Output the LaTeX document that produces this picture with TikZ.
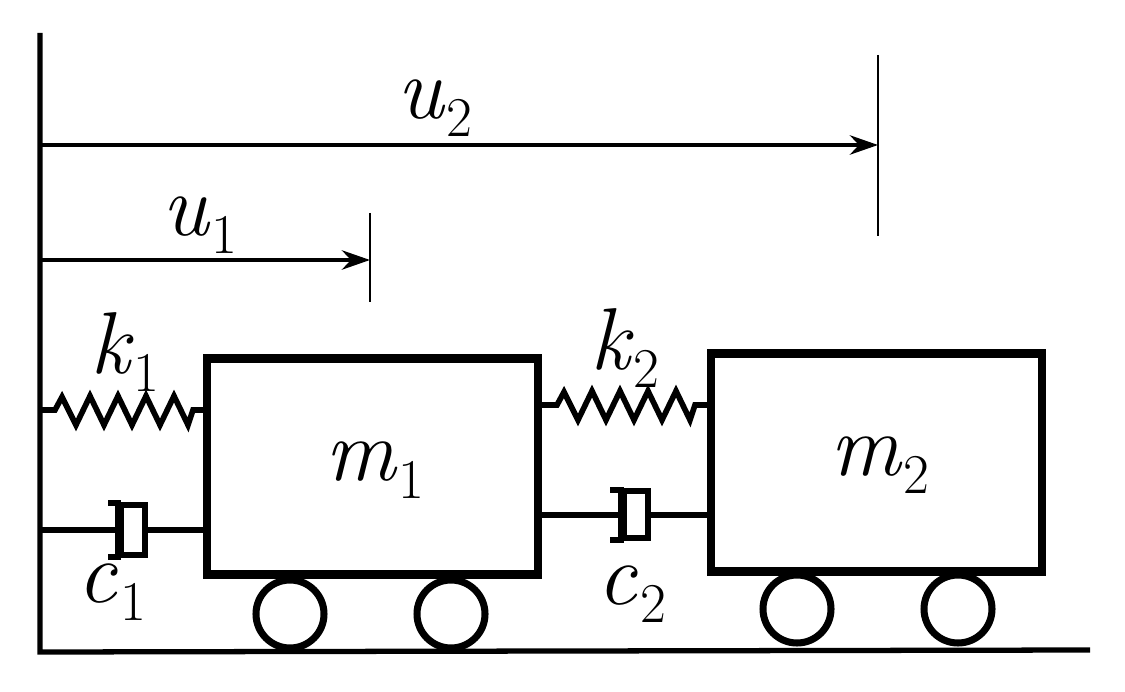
\documentclass[tikz,border=0pt]{standalone}
\usetikzlibrary{arrows.meta}
\newcommand{\lbl}[2]{{\fontsize{50}{50}\selectfont\itshape #1}\,{\fontsize{32}{32}\selectfont\raisebox{-10pt}{#2}}}
\begin{document}
\begin{tikzpicture}[x=0.02cm,y=-0.02cm,
  med/.style={line width=3pt},
  spr/.style={line width=3.2pt,line join=miter},
  wheel/.style={line width=4pt,circle,minimum size=68*0.02cm,inner sep=0pt,draw},
  lab/.style={inner sep=0pt}]
\useasboundingbox (0,0) rectangle (1125,692);
\coordinate (wt) at (40,33); \coordinate (wb) at (40,652);
\coordinate (gr) at (1090,650);
\draw[med] (wt) -- (wb) -- (gr);
% masses
\node[draw,line width=4.8pt,minimum width=331*0.02cm,minimum height=216*0.02cm,inner sep=0pt] (m1) at (372.5,466.5) {};
\node[draw,line width=4.8pt,minimum width=331*0.02cm,minimum height=218*0.02cm,inner sep=0pt] (m2) at (876.5,462.5) {};
\node[lab] at (375,470) {\lbl{m}{1}};
\node[lab] at (880,465) {\lbl{m}{2}};
% wheels
\node[wheel] (w1) at (290,614) {};
\node[wheel] (w2) at (451,614) {};
\node[wheel] (w3) at (797,609) {};
\node[wheel] (w4) at (958,609) {};
% springs
\coordinate (s1a) at (40,410); \coordinate (s1d) at (203,410);
\draw[spr] (s1a) -- (55,410) -- (62,397) -- (76,425) -- (90,396) -- (104,425) -- (118,396) -- (132,425) -- (146,396) -- (160,425) -- (174,396) -- (188,425) -- (193,410) -- (s1d);
\coordinate (s2a) at (542,405); \coordinate (s2d) at (707,405);
\draw[spr] (s2a) -- (557,405) -- (564,392) -- (578,420) -- (592,391) -- (606,420) -- (620,391) -- (634,420) -- (648,391) -- (662,420) -- (676,391) -- (690,420) -- (695,405) -- (s2d);
% dampers
\coordinate (d1a) at (40,530); \coordinate (d1p) at (118,530); \coordinate (d1r) at (145,530); \coordinate (d1b) at (203,530);
\draw[med] (d1a) -- (d1p);
\draw[med] (108,503) -- (118,503) -- (118,557) -- (108,557);
\draw[med] (121,505) rectangle (145,555);
\draw[med] (d1r) -- (d1b);
\coordinate (d2a) at (542,515); \coordinate (d2p) at (621,515); \coordinate (d2r) at (648,515); \coordinate (d2b) at (707,515);
\draw[med] (d2a) -- (d2p);
\draw[med] (610,490) -- (621,490) -- (621,540) -- (610,540);
\draw[med] (624,491) rectangle (648,538);
\draw[med] (d2r) -- (d2b);
% labels
\node[lab] at (125,352) {\lbl{k}{1}};
\node[lab] at (625,348) {\lbl{k}{2}};
\node[lab] at (112,592) {\lbl{c}{1}};
\node[lab] at (632,594) {\lbl{c}{2}};
% displacement arrows
\coordinate (u1a) at (40,260); \coordinate (u1b) at (370,260);
\coordinate (u2a) at (40,145); \coordinate (u2b) at (878,145);
\draw[line width=2.4pt,-{Stealth[length=16pt,width=11pt]}] (u1a) -- (u1b);
\draw[line width=2.4pt,-{Stealth[length=16pt,width=11pt]}] (u2a) -- (u2b);
\draw[line width=1pt] (370,213) -- (370,302);
\draw[line width=1pt] (878,55) -- (878,236);
\node[lab] at (200,225) {\lbl{u}{1}};
\node[lab] at (435,108) {\lbl{u}{2}};
\end{tikzpicture}
\end{document}
